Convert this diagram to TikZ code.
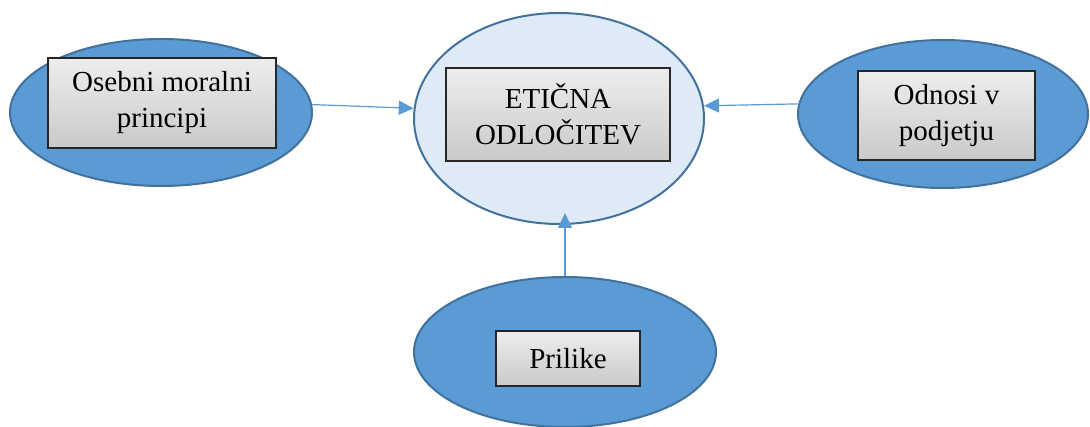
\documentclass[tikz,border=0pt]{standalone}
\usepackage{fontspec}
\setmainfont{Liberation Serif}
\usetikzlibrary{shapes.geometric,arrows.meta}
\definecolor{ovalblue}{HTML}{5B9BD5}
\definecolor{ovaledge}{HTML}{41719C}
\definecolor{ovallight}{HTML}{DEEBF7}

\begin{document}
\begin{tikzpicture}
[x=1pt,y=-1pt,
oval/.style={ellipse,draw=ovaledge,line width=2pt,fill=ovalblue,inner sep=0pt},
box/.style={rectangle,draw=black!85,line width=1.4pt,top color=gray!14,bottom color=gray!42,align=center,inner sep=0pt,font=\fontsize{29}{36}\selectfont},
link/.style={draw=ovalblue,line width=1.2pt,-{Triangle[length=15pt,width=14pt]}}]
\useasboundingbox (0,0) rectangle (1090,427);
\node[oval,minimum width=302pt,minimum height=147pt] (e1) at (161,112.5) {};
\node[oval,fill=ovallight,minimum width=290pt,minimum height=211pt] (e2) at (559,118.5) {};
\node[oval,minimum width=290pt,minimum height=148pt] (e3) at (943,114) {};
\node[oval,minimum width=302pt,minimum height=150pt] (e4) at (565,352) {};
\node[box,minimum width=228pt,minimum height=90pt] (b1) at (162,103) {Osebni moralni\\principi};
\node[box,minimum width=224pt,minimum height=93pt] (b2) at (558,114.5) {ETIČNA\\ODLOČITEV};
\node[box,minimum width=177pt,minimum height=89pt] (b3) at (946.5,115.5) {Odnosi v\\podjetju};
\node[box,minimum width=144pt,minimum height=55pt] (b4) at (568,358.5) {Prilike};
\foreach \from/\to in {e1.3/e2.176,e3.176/e2.5}
\draw[link] (\from) -- (\to);
\draw[link,shorten >=-12pt] (e4.north) -- (e4.north |- e2.south);
\end{tikzpicture}
\end{document}
